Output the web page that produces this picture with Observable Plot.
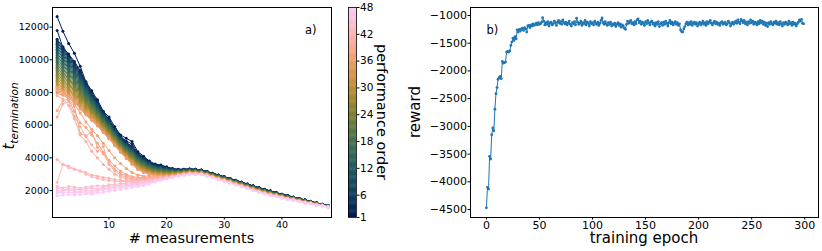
<!DOCTYPE html>
<html><head><meta charset="utf-8">
<script src="https://cdn.jsdelivr.net/npm/d3@7"></script>
<script src="https://cdn.jsdelivr.net/npm/@observablehq/plot@0.6"></script>
<style>
body{margin:0;background:#fff;}
#fig{position:relative;width:822px;height:251px;font-family:"DejaVu Sans",sans-serif;overflow:hidden;}
#fig svg{position:absolute;top:0;}
</style></head><body><div id="fig"></div>
<script>
// ---------- panel a) data ----------
const measurements = [1,2,3,4,5,6,7,8,9,10,11,12,13,14,15,16,17,18,19,20,21,22,23,24,25,26,27,28,29,30,31,32,33,34,35,36,37,38,39,40,41,42,43,44,45,46,47,48];
const performanceOrder = [1,2,3,4,5,6,7,8,9,10,11,12,13,14,15,16,17,18,19,20,21,22,23,24,25,26,27,28,29,30,31,32,33,34,35,36,37,38,39,40,41,42,43,44,45,46,47,48];
const order01 = [12650,11750,11000,10400,9600,8650,8100,7550,6850,6500,5900,5400,5200,5000,4380,4100,3800,3620,3560,3450,3340,3300,3310,3320,3310,3260,3170,3060,2950,2850,2740,2630,2520,2400,2290,2180,2080,1980,1880,1780,1690,1600,1510,1430,1340,1250,1160,1080];
const order02 = [11800,10750,10350,9900,9350,8550,7950,7450,6800,6300,5800,5320,5020,4850,4300,4030,3760,3590,3520,3430,3330,3291,3302,3313,3303,3254,3164,3054,2944,2844,2734,2624,2514,2394,2284,2174,2074,1974,1875,1775,1685,1596,1506,1426,1337,1247,1158,1078];
const order03 = [11250,10800,10300,9800,9300,8600,8000,7400,6800,6350,5800,5300,4950,4700,4250,4000,3750,3580,3500,3420,3330,3282,3294,3306,3296,3248,3158,3048,2938,2838,2728,2618,2508,2388,2278,2168,2068,1968,1870,1770,1680,1592,1502,1422,1334,1244,1156,1076];
const order04 = [11150,10710,10220,9728,9230,8540,7948,7356,6762,6314,5768,5271,4920,4667,4221,3973,3727,3560,3482,3404,3318,3273,3286,3299,3289,3242,3152,3042,2932,2832,2722,2612,2502,2382,2272,2162,2062,1962,1865,1765,1675,1588,1498,1418,1331,1241,1154,1074];
const order05 = [11050,10620,10140,9656,9160,8480,7896,7312,6724,6278,5736,5242,4890,4634,4192,3946,3704,3540,3464,3388,3306,3264,3278,3292,3282,3236,3146,3036,2926,2826,2716,2606,2496,2376,2266,2156,2056,1956,1860,1760,1670,1584,1494,1414,1328,1238,1152,1072];
const order06 = [10950,10530,10060,9584,9090,8420,7844,7268,6686,6242,5704,5213,4860,4601,4163,3919,3681,3520,3446,3372,3294,3255,3270,3285,3275,3230,3140,3030,2920,2820,2710,2600,2490,2370,2260,2150,2050,1950,1855,1755,1665,1580,1490,1410,1325,1235,1150,1070];
const order07 = [10850,10440,9980,9512,9020,8360,7792,7224,6648,6206,5672,5184,4830,4568,4134,3892,3658,3500,3428,3356,3282,3246,3262,3278,3268,3224,3134,3024,2914,2814,2704,2594,2484,2364,2254,2144,2044,1944,1850,1750,1660,1576,1486,1406,1322,1232,1148,1068];
const order08 = [10750,10350,9900,9440,8950,8300,7740,7180,6610,6170,5640,5155,4800,4535,4105,3865,3635,3480,3410,3340,3270,3237,3254,3271,3261,3218,3128,3018,2908,2808,2698,2588,2478,2358,2248,2138,2038,1938,1845,1745,1655,1572,1482,1402,1319,1229,1146,1066];
const order09 = [10650,10260,9820,9368,8880,8240,7688,7136,6572,6134,5608,5126,4770,4502,4076,3838,3612,3460,3392,3324,3258,3228,3246,3264,3254,3212,3122,3012,2902,2802,2692,2582,2472,2352,2242,2132,2032,1932,1840,1740,1650,1568,1478,1398,1316,1226,1144,1064];
const order10 = [10550,10170,9740,9296,8810,8180,7636,7092,6534,6098,5576,5097,4740,4469,4047,3811,3589,3440,3374,3308,3246,3219,3238,3257,3247,3206,3116,3006,2896,2796,2686,2576,2466,2346,2236,2126,2026,1926,1835,1735,1645,1564,1474,1394,1313,1223,1142,1062];
const order11 = [10450,10080,9660,9224,8740,8120,7584,7048,6496,6062,5544,5068,4710,4436,4018,3784,3566,3420,3356,3292,3234,3210,3230,3250,3240,3200,3110,3000,2890,2790,2680,2570,2460,2340,2230,2120,2020,1920,1830,1730,1640,1560,1470,1390,1310,1220,1140,1060];
const order12 = [10350,9990,9580,9152,8670,8060,7532,7004,6458,6026,5512,5039,4680,4403,3989,3757,3543,3400,3338,3276,3222,3201,3222,3243,3233,3194,3104,2994,2884,2784,2674,2564,2454,2334,2224,2114,2014,1914,1825,1725,1635,1556,1466,1386,1307,1217,1138,1058];
const order13 = [10250,9900,9500,9080,8600,8000,7480,6960,6420,5990,5480,5010,4650,4370,3960,3730,3520,3380,3320,3260,3210,3192,3214,3236,3226,3188,3098,2988,2878,2778,2668,2558,2448,2328,2218,2108,2008,1908,1820,1720,1630,1552,1462,1382,1304,1214,1136,1056];
const order14 = [10150,9810,9420,9008,8530,7940,7428,6916,6382,5954,5448,4981,4620,4337,3931,3703,3497,3360,3302,3244,3198,3183,3206,3229,3219,3182,3092,2982,2872,2772,2662,2552,2442,2322,2212,2102,2002,1902,1815,1715,1625,1548,1458,1378,1301,1211,1134,1054];
const order15 = [10050,9720,9340,8936,8460,7880,7376,6872,6344,5918,5416,4952,4590,4304,3902,3676,3474,3340,3284,3228,3186,3174,3198,3222,3212,3176,3086,2976,2866,2766,2656,2546,2436,2316,2206,2096,1996,1896,1810,1710,1620,1544,1454,1374,1298,1208,1132,1052];
const order16 = [9950,9630,9260,8864,8390,7820,7324,6828,6306,5882,5384,4923,4560,4271,3873,3649,3451,3320,3266,3212,3174,3165,3190,3215,3205,3170,3080,2970,2860,2760,2650,2540,2430,2310,2200,2090,1990,1890,1805,1705,1615,1540,1450,1370,1295,1205,1130,1050];
const order17 = [9850,9540,9180,8792,8320,7760,7272,6784,6268,5846,5352,4894,4530,4238,3844,3622,3428,3300,3248,3196,3162,3156,3182,3208,3198,3164,3074,2964,2854,2754,2644,2534,2424,2304,2194,2084,1984,1884,1800,1700,1610,1536,1446,1366,1292,1202,1128,1048];
const order18 = [9750,9450,9100,8720,8250,7700,7220,6740,6230,5810,5320,4865,4500,4205,3815,3595,3405,3280,3230,3180,3150,3147,3174,3201,3191,3158,3068,2958,2848,2748,2638,2528,2418,2298,2188,2078,1978,1878,1795,1695,1605,1532,1442,1362,1289,1199,1126,1046];
const order19 = [9650,9360,9020,8648,8180,7640,7168,6696,6192,5774,5288,4836,4470,4172,3786,3568,3382,3260,3212,3164,3138,3138,3166,3194,3184,3152,3062,2952,2842,2742,2632,2522,2412,2292,2182,2072,1972,1872,1790,1690,1600,1528,1438,1358,1286,1196,1124,1044];
const order20 = [9550,9270,8940,8576,8110,7580,7116,6652,6154,5738,5256,4807,4440,4139,3757,3541,3359,3240,3194,3148,3126,3129,3158,3187,3177,3146,3056,2946,2836,2736,2626,2516,2406,2286,2176,2066,1966,1866,1785,1685,1595,1524,1434,1354,1283,1193,1122,1042];
const order21 = [9450,9180,8860,8504,8040,7520,7064,6608,6116,5702,5224,4778,4410,4106,3728,3514,3336,3220,3176,3132,3114,3120,3150,3180,3170,3140,3050,2940,2830,2730,2620,2510,2400,2280,2170,2060,1960,1860,1780,1680,1590,1520,1430,1350,1280,1190,1120,1040];
const order22 = [9350,9090,8780,8432,7970,7460,7012,6564,6078,5666,5192,4749,4380,4073,3699,3487,3313,3200,3158,3116,3102,3111,3142,3173,3163,3134,3044,2934,2824,2724,2614,2504,2394,2274,2164,2054,1954,1854,1775,1675,1585,1516,1426,1346,1277,1187,1118,1038];
const order23 = [9250,9000,8700,8360,7900,7400,6960,6520,6040,5630,5160,4720,4350,4040,3670,3460,3290,3180,3140,3100,3090,3102,3134,3166,3156,3128,3038,2928,2818,2718,2608,2498,2388,2268,2158,2048,1948,1848,1770,1670,1580,1512,1422,1342,1274,1184,1116,1036];
const order24 = [9150,8910,8620,8288,7830,7340,6908,6476,6002,5594,5128,4691,4320,4007,3641,3433,3267,3160,3122,3084,3078,3093,3126,3159,3149,3122,3032,2922,2812,2712,2602,2492,2382,2262,2152,2042,1942,1842,1765,1665,1575,1508,1418,1338,1271,1181,1114,1034];
const order25 = [9050,8820,8540,8216,7760,7280,6856,6432,5964,5558,5096,4662,4290,3974,3612,3406,3244,3140,3104,3068,3066,3084,3118,3152,3142,3116,3026,2916,2806,2706,2596,2486,2376,2256,2146,2036,1936,1836,1760,1660,1570,1504,1414,1334,1268,1178,1112,1032];
const order26 = [8950,8730,8460,8144,7690,7220,6804,6388,5926,5522,5064,4633,4260,3941,3583,3379,3221,3120,3086,3052,3054,3075,3110,3145,3135,3110,3020,2910,2800,2700,2590,2480,2370,2250,2140,2030,1930,1830,1755,1655,1565,1500,1410,1330,1265,1175,1110,1030];
const order27 = [8850,8640,8380,8072,7620,7160,6752,6344,5888,5486,5032,4604,4230,3908,3554,3352,3198,3100,3068,3036,3042,3066,3102,3138,3128,3104,3014,2904,2794,2694,2584,2474,2364,2244,2134,2024,1924,1824,1750,1650,1560,1496,1406,1326,1262,1172,1108,1028];
const order28 = [8750,8550,8300,8000,7550,7100,6700,6300,5850,5450,5000,4575,4200,3875,3525,3325,3175,3080,3050,3020,3030,3057,3094,3131,3121,3098,3008,2898,2788,2688,2578,2468,2358,2238,2128,2018,1918,1818,1745,1645,1555,1492,1402,1322,1259,1169,1106,1026];
const order29 = [8650,8460,8220,7928,7480,7040,6648,6256,5812,5414,4968,4546,4170,3842,3496,3298,3152,3060,3032,3004,3018,3048,3086,3124,3114,3092,3002,2892,2782,2682,2572,2462,2352,2232,2122,2012,1912,1812,1740,1640,1550,1488,1398,1318,1256,1166,1104,1024];
const order30 = [8550,8370,8140,7856,7410,6980,6596,6212,5774,5378,4936,4517,4140,3809,3467,3271,3129,3040,3014,2988,3006,3039,3078,3117,3107,3086,2996,2886,2776,2676,2566,2456,2346,2226,2116,2006,1906,1806,1735,1635,1545,1484,1394,1314,1253,1163,1102,1022];
const order31 = [8450,8280,8060,7784,7340,6920,6544,6168,5736,5342,4904,4488,4110,3776,3438,3244,3106,3020,2996,2972,2994,3030,3070,3110,3100,3080,2990,2880,2770,2670,2560,2450,2340,2220,2110,2000,1900,1800,1730,1630,1540,1480,1390,1310,1250,1160,1100,1020];
const order32 = [8350,8190,7980,7712,7270,6860,6492,6124,5698,5306,4872,4459,4080,3743,3409,3217,3083,3000,2978,2956,2982,3021,3062,3103,3093,3074,2984,2874,2764,2664,2554,2444,2334,2214,2104,1994,1894,1794,1725,1625,1535,1476,1386,1306,1247,1157,1098,1018];
const order33 = [8250,8100,7900,7640,7200,6800,6440,6080,5660,5270,4840,4430,4050,3710,3380,3190,3060,2980,2960,2940,2970,3012,3054,3096,3086,3068,2978,2868,2758,2658,2548,2438,2328,2208,2098,1988,1888,1788,1720,1620,1530,1472,1382,1302,1244,1154,1096,1016];
const order34 = [8150,8010,7820,7568,7130,6740,6388,6036,5622,5234,4808,4401,4020,3677,3351,3163,3037,2960,2942,2924,2958,3003,3046,3089,3079,3062,2972,2862,2752,2652,2542,2432,2322,2202,2092,1982,1882,1782,1715,1615,1525,1468,1378,1298,1241,1151,1094,1014];
const order35 = [8050,7920,7740,7496,7060,6680,6336,5992,5584,5198,4776,4372,3990,3644,3322,3136,3014,2940,2924,2908,2946,2994,3038,3082,3072,3056,2966,2856,2746,2646,2536,2426,2316,2196,2086,1976,1876,1776,1710,1610,1520,1464,1374,1294,1238,1148,1092,1012];
const order36 = [7950,7830,7660,7424,6990,6620,6284,5948,5546,5162,4744,4343,3960,3611,3293,3109,2991,2920,2906,2892,2934,2985,3030,3075,3065,3050,2960,2850,2740,2640,2530,2420,2310,2190,2080,1970,1870,1770,1705,1605,1515,1460,1370,1290,1235,1145,1090,1010];
const order37 = [8300,8050,7750,7300,6750,6200,5750,5350,4900,4450,4000,3650,3350,3100,2950,2880,2900,2880,2870,2870,2910,2976,3022,3068,3058,3044,2954,2844,2734,2634,2524,2414,2304,2184,2074,1964,1864,1764,1700,1600,1510,1456,1366,1286,1232,1142,1088,1008];
const order38 = [8150,7950,7550,6850,6150,5850,5400,4900,4350,3850,3500,3200,2980,2850,2800,2790,2840,2840,2850,2860,2900,2967,3014,3061,3051,3038,2948,2838,2728,2628,2518,2408,2298,2178,2068,1958,1858,1758,1695,1595,1505,1452,1362,1282,1229,1139,1086,1006];
const order39 = [6900,7500,7600,7150,5500,5350,5600,4650,4250,3700,3300,3050,2900,2780,2750,2750,2800,2810,2830,2850,2890,2958,3006,3054,3044,3032,2942,2832,2722,2622,2512,2402,2292,2172,2062,1952,1852,1752,1690,1590,1500,1448,1358,1278,1226,1136,1084,1004];
const order40 = [6500,7300,7450,6550,5900,5300,4800,4400,4700,3600,3200,2950,2800,2720,2700,2710,2760,2780,2810,2840,2880,2949,2998,3047,3037,3026,2936,2826,2716,2616,2506,2396,2286,2166,2056,1946,1846,1746,1685,1585,1495,1444,1354,1274,1223,1133,1082,1002];
const order41 = [7800,7600,7200,6400,5400,5000,4400,4000,3600,3300,3000,2820,2720,2680,2660,2670,2720,2750,2790,2830,2870,2940,2990,3040,3030,3020,2930,2820,2710,2610,2500,2390,2280,2160,2050,1940,1840,1740,1680,1580,1490,1440,1350,1270,1220,1130,1080,1000];
const order42 = [3900,3600,3500,3300,3200,3100,2950,2880,2800,2750,2680,2630,2600,2600,2610,2630,2680,2720,2770,2820,2860,2931,2982,3033,3023,3014,2924,2814,2704,2604,2494,2384,2274,2154,2044,1934,1834,1734,1675,1575,1485,1436,1346,1266,1217,1127,1078,998];
const order43 = [2500,3600,3400,3300,3200,3000,2850,2750,2680,2620,2570,2550,2540,2550,2570,2600,2640,2690,2750,2800,2850,2922,2974,3026,3016,3008,2918,2808,2698,2598,2488,2378,2268,2148,2038,1928,1828,1728,1670,1570,1480,1432,1342,1262,1214,1124,1076,996];
const order44 = [2260,2150,2250,2200,2150,2200,2250,2300,2280,2350,2380,2420,2450,2480,2500,2540,2600,2660,2720,2780,2840,2913,2966,3019,3009,3002,2912,2802,2692,2592,2482,2372,2262,2142,2032,1922,1822,1722,1665,1565,1475,1428,1338,1258,1211,1121,1074,994];
const order45 = [2150,2050,2100,2080,2050,2100,2150,2100,2200,2250,2300,2330,2370,2410,2450,2490,2560,2630,2690,2760,2820,2904,2958,3012,3002,2996,2906,2796,2686,2586,2476,2366,2256,2136,2026,1916,1816,1716,1660,1560,1470,1424,1334,1254,1208,1118,1072,992];
const order46 = [2000,1950,2050,1980,1950,2000,1980,2050,2100,2150,2200,2250,2290,2340,2380,2430,2500,2590,2660,2740,2810,2895,2950,3005,2995,2990,2900,2790,2680,2580,2470,2360,2250,2130,2020,1910,1810,1710,1655,1555,1465,1420,1330,1250,1205,1115,1070,990];
const order47 = [1850,1880,1900,1850,1880,1920,1880,1960,2020,2070,2120,2170,2220,2270,2320,2370,2450,2550,2630,2720,2800,2886,2942,2998,2988,2984,2894,2784,2674,2574,2464,2354,2244,2124,2014,1904,1804,1704,1650,1550,1460,1416,1326,1246,1202,1112,1068,988];
const order48 = [1680,1720,1760,1720,1760,1800,1780,1850,1900,1950,2000,2060,2120,2180,2240,2300,2400,2520,2610,2700,2780,2877,2934,2991,2981,2978,2888,2778,2668,2568,2458,2348,2238,2118,2008,1898,1798,1698,1645,1545,1455,1412,1322,1242,1199,1109,1066,986];
const runs = [order01,order02,order03,order04,order05,order06,order07,order08,order09,order10,order11,order12,order13,order14,order15,order16,order17,order18,order19,order20,order21,order22,order23,order24,order25,order26,order27,order28,order29,order30,order31,order32,order33,order34,order35,order36,order37,order38,order39,order40,order41,order42,order43,order44,order45,order46,order47,order48];
const xTicksA = [10,20,30,40];
const yTicksA = [2000,4000,6000,8000,10000,12000];
const colorbarTicks = [1,6,12,18,24,30,36,42,48];

// ---------- panel b) data ----------
const reward = [
-4470,-4100,-4130,-3540,-3590,-3150,-3030,-3080,-2690,-2410,
-2300,-2150,-2120,-2100,-2140,-1830,-1860,-1850,-1840,-1660,
-1650,-1660,-1640,-1540,-1480,-1410,-1450,-1380,-1420,-1260,
-1300,-1250,-1280,-1240,-1230,-1270,-1220,-1240,-1300,-1190,
-1180,-1220,-1170,-1190,-1150,-1180,-1160,-1140,-1170,-1130,
-1160,-1150,-1120,-1040,-1100,-1170,-1130,-1160,-1110,-1190,
-1140,-1120,-1170,-1150,-1100,-1130,-1180,-1120,-1090,-1140,
-1110,-1160,-1080,-1130,-1150,-1120,-1170,-1140,-1100,-1160,
-1190,-1130,-1150,-1110,-1170,-1050,-1120,-1160,-1140,-1100,
-1180,-1130,-1150,-1090,-1170,-1120,-1140,-1190,-1110,-1150,
-1130,-1170,-1100,-1140,-1160,-1120,-1180,-1140,-1090,-1045,
-1130,-1160,-1110,-1150,-1180,-1130,-1160,-1120,-1190,-1150,
-1170,-1140,-1200,-1160,-1130,-1180,-1150,-1210,-1170,-1190,
-1230,-1250,-1160,-1100,-1140,-1120,-1090,-1150,-1130,-1170,
-1110,-1150,-1080,-1060,-1130,-1100,-1160,-1120,-1140,-1180,
-1110,-1150,-1090,-1130,-1170,-1120,-1100,-1160,-1140,-1190,
-1130,-1160,-1110,-1200,-1150,-1130,-1180,-1120,-1160,-1100,
-1140,-1190,-1130,-1090,-1150,-1120,-1170,-1140,-1110,-1160,
-1130,-1180,-1150,-1260,-1290,-1300,-1240,-1200,-1150,-1120,
-1170,-1130,-1160,-1110,-1180,-1140,-1120,-1160,-1130,-1190,
-1150,-1120,-1170,-1140,-1100,-1160,-1130,-1180,-1110,-1150,
-1120,-1090,-1140,-1170,-1130,-1100,-1150,-1120,-1160,-1140,
-1180,-1130,-1110,-1160,-1140,-1120,-1170,-1150,-1100,-1130,
-1190,-1150,-1120,-1160,-1130,-1100,-1140,-1080,-1120,-1150,
-1070,-1100,-1130,-1090,-1150,-1120,-1170,-1110,-1140,-1080,
-1130,-1100,-1160,-1120,-1140,-1170,-1110,-1150,-1090,-1130,
-1100,-1160,-1120,-1180,-1140,-1200,-1130,-1160,-1110,-1150,
-1170,-1120,-1140,-1100,-1160,-1130,-1170,-1110,-1150,-1190,
-1130,-1160,-1120,-1140,-1170,-1100,-1150,-1130,-1180,-1120,
-1160,-1140,-1190,-1150,-1120,-1080,-1100,-1070,-1140,-1150];
const epoch = reward.map((_, i) => i);
const epochTicks = [0,50,100,150,200,250,300];
const rewardTicks = [-4500,-4000,-3500,-3000,-2500,-2000,-1500,-1000];

// ---------- styles ----------
const batlow = ["#011959","#103F60","#1C5A62","#3C6D56","#687B3E","#9D892B","#D29343","#F8A17B","#FDB7BC","#FACCFA"];
const colorScale = {type: "linear", domain: batlow.map((_, i) => 1 + 47 * i / 9), range: batlow, interpolate: "rgb"};
const fmt = d => d < 0 ? "\u2212" + Math.abs(d) : String(d);
const FONT = "DejaVu Sans";
const fig = document.getElementById("fig");

function addText(svg, {x, y, rotate = 0, size, text, anchor = "middle"}) {
  return d3.select(svg).append("text")
    .attr("transform", `translate(${x},${y}) rotate(${rotate})`)
    .attr("text-anchor", anchor).attr("font-family", FONT)
    .attr("font-size", size).attr("fill", "black").text(text);
}

// ---------- panel a) ----------
const left = Plot.plot({
  width: 345, height: 251,
  marginLeft: 52, marginRight: 14, marginTop: 7, marginBottom: 34,
  style: {fontFamily: FONT, fontSize: "9.5px", color: "black", background: "transparent"},
  x: {domain: [0.2, 48.6], ticks: xTicksA, tickFormat: fmt, label: null, tickSize: 2.5, tickPadding: 1.5},
  y: {domain: [350, 13200], ticks: yTicksA, tickFormat: fmt, label: null, tickSize: 2.5, tickPadding: 1},
  color: colorScale,
  marks: [
    ...runs.flatMap((run, i) => [
      Plot.line(run, {x: measurements, y: run, stroke: run.map(() => performanceOrder[i]), strokeWidth: 1}),
      Plot.dot(run, {x: measurements, y: run, fill: run.map(() => performanceOrder[i]), r: 1.5})
    ]),
    Plot.frame({stroke: "black"}),
    Plot.text(["a)"], {text: d => d, frameAnchor: "top-right", dx: -15, dy: 18, textAnchor: "end", fontSize: 11.5})
  ]
});
left.style.left = "0px";
fig.appendChild(left);
addText(left, {x: 191.5, y: 243, size: 14.5, text: "# measurements"});
{
  const t = d3.select(left).append("text")
    .attr("transform", "translate(14,116) rotate(-90)")
    .attr("text-anchor", "middle").attr("font-family", FONT)
    .attr("font-style", "italic").attr("fill", "black");
  t.append("tspan").attr("font-size", 15).text("t");
  t.append("tspan").attr("font-size", 10.5).attr("dy", 3.5).text("termination");
}

// ---------- colorbar ----------
const cbSteps = d3.range(1, 48, 0.2);
const cbar = Plot.plot({
  width: 60, height: 251,
  marginLeft: 8, marginRight: 44, marginTop: 7, marginBottom: 34,
  style: {fontFamily: FONT, fontSize: "10.5px", color: "black", background: "transparent"},
  x: {domain: [0, 1], axis: null},
  y: {domain: [1, 48], ticks: colorbarTicks, tickFormat: fmt, axis: "right", label: null, tickSize: 2.5, tickPadding: 1},
  color: colorScale,
  marks: [
    Plot.rect(cbSteps, {x1: 0, x2: 1, y1: d => d, y2: d => Math.min(48, d + 0.3), fill: d => d + 0.1}),
    Plot.frame({stroke: "black", strokeWidth: 0.8})
  ]
});
cbar.style.left = "340px";
fig.appendChild(cbar);
addText(cbar, {x: 37, y: 112, rotate: 90, size: 14.5, text: "performance order"});

// ---------- panel b) ----------
const right = Plot.plot({
  width: 422, height: 251,
  marginLeft: 70, marginRight: 4, marginTop: 7, marginBottom: 34,
  style: {fontFamily: FONT, fontSize: "11px", color: "black", background: "transparent"},
  x: {domain: [-15, 313], ticks: epochTicks, tickFormat: fmt, label: null, tickSize: 2.5, tickPadding: 1.5},
  y: {domain: [-4644, -856], ticks: rewardTicks, tickFormat: fmt, label: null, tickSize: 2.5, tickPadding: 1},
  marks: [
    Plot.line(reward, {x: epoch, y: reward, stroke: "#1f77b4", strokeWidth: 1}),
    Plot.dot(reward, {x: epoch, y: reward, fill: "#1f77b4", r: 1.4}),
    Plot.frame({stroke: "black"}),
    Plot.text(["b)"], {text: d => d, frameAnchor: "top-left", dx: 16, dy: 18, textAnchor: "start", fontSize: 11.5})
  ]
});
right.style.left = "400px";
fig.appendChild(right);
addText(right, {x: 244, y: 243, size: 15, text: "training epoch"});
addText(right, {x: 19.5, y: 112, rotate: -90, size: 15, text: "reward"});
</script></body></html>
